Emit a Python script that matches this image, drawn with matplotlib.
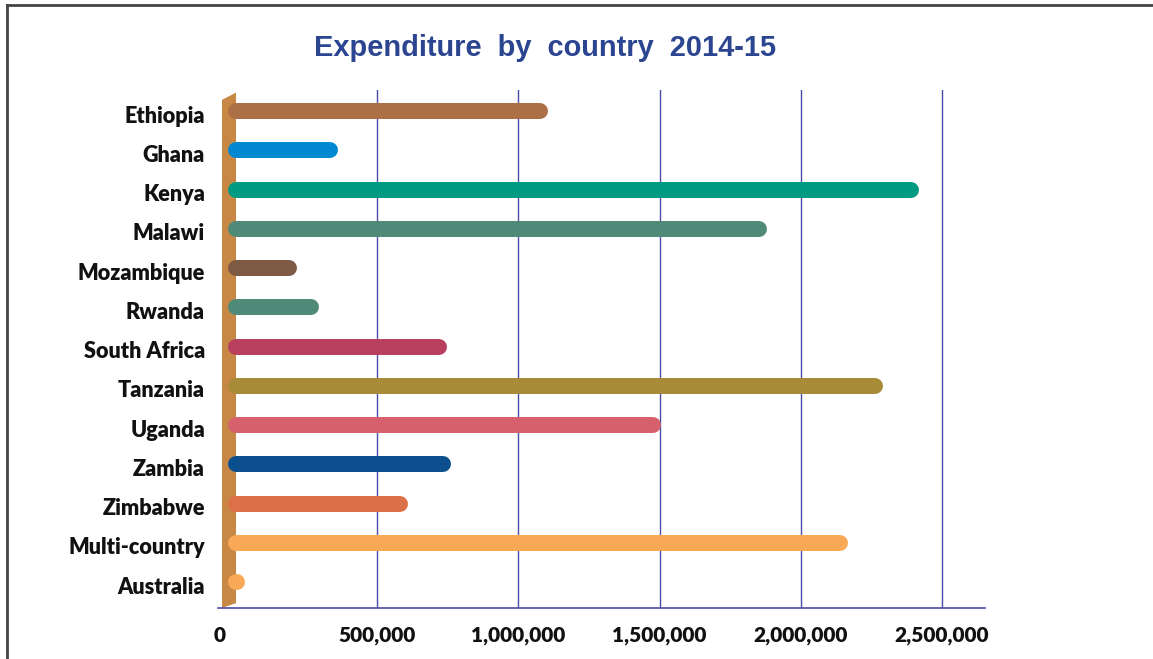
import matplotlib
matplotlib.use("Agg")
import matplotlib.pyplot as plt
from matplotlib.ticker import FuncFormatter
from matplotlib.patches import Polygon
import matplotlib.transforms as mtransforms

countries = ["Ethiopia", "Ghana", "Kenya", "Malawi", "Mozambique", "Rwanda",
             "South Africa", "Tanzania", "Uganda", "Zambia", "Zimbabwe",
             "Multi-country", "Australia"]
values = [1076000, 333000, 2390000, 1852000, 188000, 266000,
          719000, 2263000, 1477000, 733000, 581000, 2139000, 3000]
colors = ["#AD6F45", "#0088D1", "#009B82", "#4F8A78", "#7F5A44", "#4F8A78",
          "#B8405E", "#A88B36", "#D6606B", "#0B4F8E", "#DD7046", "#F9A955",
          "#F9A955"]
xticks = [0, 500000, 1000000, 1500000, 2000000, 2500000]
title = "Expenditure  by  country  2014-15"

W, H = 1153, 659
fig = plt.figure(figsize=(W / 100, H / 100), dpi=100)
fig.patch.set_facecolor("white")

# frame around the figure (top & left visible)
fig.add_artist(plt.Line2D([7 / W, 7 / W], [0, 1 - 5 / H], color="#444444", lw=2,
                          transform=fig.transFigure))
fig.add_artist(plt.Line2D([7 / W, 1], [1 - 5 / H, 1 - 5 / H], color="#444444", lw=2,
                          transform=fig.transFigure))

left, right, bottom, top = 218, 985, 608, 90
ax = fig.add_axes([left / W, 1 - bottom / H, (right - left) / W, (bottom - top) / H])

x0 = 236
ppm = 282.4 / 1e6
ax.set_xlim((left - x0) / ppm, (right - x0) / ppm)
n = len(countries)
ypos = list(range(n))
ax.set_ylim(n - 1 + 0.66, -0.54)

for s in ["top", "right", "left"]:
    ax.spines[s].set_visible(False)
ax.spines["bottom"].set_color("#4B4BA8")
ax.spines["bottom"].set_linewidth(1.2)

ax.set_xticks(xticks)
ax.xaxis.set_major_formatter(FuncFormatter(lambda v, p: f"{int(v):,}"))
ax.tick_params(axis="x", length=0, pad=13)
ax.tick_params(axis="y", length=0, pad=9.4)
for t in xticks[1:]:
    ax.axvline(t, color="#4B4BA8", lw=1.0, zorder=1)

# 3D wall
trans = mtransforms.blended_transform_factory(ax.transData, ax.transAxes)
wall_l = -14 / ppm
wall = Polygon([[wall_l, 0.0], [wall_l, 0.981], [0, 0.995], [0, 0.0095]],
               closed=True, facecolor="#C78845", edgecolor="none",
               transform=trans, zorder=2)
ax.add_patch(wall)

ax.hlines(ypos, 0, values, colors=colors, lw=11.5, capstyle="round", zorder=3)

ax.set_yticks(ypos)
ax.set_yticklabels(countries)
fig.canvas.draw()
down = mtransforms.ScaledTranslation(0, -3 / 100, fig.dpi_scale_trans)
for lab in ax.get_yticklabels():
    lab.set_transform(lab.get_transform() + down)
for lab in ax.get_yticklabels() + ax.get_xticklabels():
    lab.set_fontfamily("Lato")
    lab.set_fontweight("heavy")
    lab.set_fontsize(15.6)
    lab.set_color("#111111")
for lab in ax.get_xticklabels():
    lab.set_fontsize(15)
xl = ax.get_xticklabels()
shift0 = mtransforms.ScaledTranslation(-16 / 100, 0, fig.dpi_scale_trans)
for tk in ax.xaxis.get_major_ticks():
    if tk.get_loc() == 0:
        tk.label1.set_transform(tk.label1.get_transform() + shift0)

fig.text(545 / W, 1 - 48 / H, title, ha="center", va="center",
         fontfamily="Liberation Sans", fontweight="bold", fontsize=20.9,
         color="#2B4590")

fig.savefig("out.png", dpi=100)
